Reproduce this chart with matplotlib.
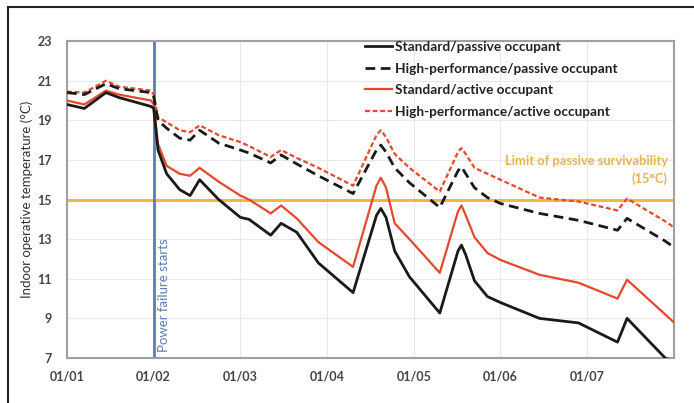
import matplotlib.pyplot as plt
from matplotlib.patches import Rectangle

plt.rcParams['font.family'] = ['Lato', 'DejaVu Sans']

# time axis in days since 01/01 (shared by all four series)
days = [0, 0.2, 0.45, 0.6, 0.97, 1.0, 1.05, 1.15, 1.3, 1.42, 1.53, 1.75,
        2.0, 2.1, 2.35, 2.47, 2.65, 2.9, 3.3, 3.57, 3.62, 3.68, 3.78, 3.95, 4.3,
        4.51, 4.55, 4.6, 4.7, 4.85, 5.0, 5.45, 5.9, 6.35, 6.46, 6.9, 7.0]

std_passive = [19.8, 19.6, 20.4, 20.15, 19.7, 19.6, 17.5, 16.3, 15.5, 15.2, 16.0, 15.0,
               14.1, 14.0, 13.2, 13.8, 13.35, 11.8, 10.3, 14.2, 14.55, 14.1, 12.4, 11.1, 9.27,
               12.4, 12.7, 12.2, 10.9, 10.1, 9.8, 9.0, 8.77, 7.8, 9.0, 7.0, 6.8]
hp_passive = [20.4, 20.3, 20.85, 20.6, 20.4, 20.2, 19.0, 18.6, 18.1, 18.0, 18.5, 17.85,
              17.5, 17.35, 16.85, 17.25, 16.8, 16.2, 15.3, 17.5, 17.75, 17.4, 16.6, 15.85, 14.6,
              16.45, 16.65, 16.3, 15.6, 15.1, 14.8, 14.3, 13.95, 13.45, 14.05, 12.9, 12.6]
std_active = [20.0, 19.8, 20.5, 20.3, 20.0, 19.8, 17.8, 16.7, 16.3, 16.2, 16.6, 15.9,
              15.2, 15.0, 14.3, 14.7, 14.05, 12.85, 11.6, 15.7, 16.1, 15.6, 13.8, 13.0, 11.3,
              14.4, 14.7, 14.2, 13.1, 12.3, 11.95, 11.2, 10.8, 10.0, 10.95, 9.2, 8.8]
hp_active = [20.45, 20.4, 21.0, 20.7, 20.5, 20.3, 19.15, 18.9, 18.5, 18.4, 18.75, 18.25,
             17.9, 17.7, 17.15, 17.5, 17.1, 16.6, 15.7, 18.25, 18.5, 18.15, 17.3, 16.6, 15.4,
             17.4, 17.6, 17.3, 16.6, 16.3, 16.0, 15.1, 14.9, 14.45, 15.05, 13.9, 13.6]

tick_days = [0, 1, 2, 3, 4, 5, 6]
tick_labels = ['01/01', '01/02', '01/03', '01/04', '01/05', '01/06', '01/07']
y_ticks = [7, 9, 11, 13, 15, 17, 19, 21, 23]

power_failure_day = 1.0
survival_limit = 15

black = '#1a1a1a'
red = '#E5482C'
gold = '#F4B63C'
blue = '#5B7DB5'

fig = plt.figure(figsize=(6.94, 4.03), dpi=100)
ax = fig.add_axes([0.0965, 0.1117, 0.8745, 0.7863])

# outer frame of the figure
fig.patches.append(Rectangle((8 / 694, -0.05), 1.1, 0.05 + 1 - 7 / 403,
                             transform=fig.transFigure, fill=False,
                             edgecolor='#222222', linewidth=1.5))

ax.grid(True, color='#E8E8E8', linewidth=0.8)
ax.set_axisbelow(True)

ax.axhline(survival_limit, color=gold, linewidth=2.2, zorder=2)
ax.axvline(power_failure_day, color=blue, linewidth=2.0, zorder=2)

ax.plot(days, std_passive, color=black, linewidth=2.0, label='Standard/passive occupant', zorder=4)
ax.plot(days, hp_passive, color=black, linewidth=2.0, dashes=(3.5, 2),
        label='High-performance/passive occupant', zorder=4)
ax.plot(days, std_active, color=red, linewidth=1.6, label='Standard/active occupant', zorder=3)
ax.plot(days, hp_active, color=red, linewidth=1.6, dashes=(2.2, 1.2),
        label='High-performance/active occupant', zorder=3)

ax.text(power_failure_day + 0.12, 7.3, 'Power failure starts', rotation=90,
        color=blue, fontsize=9.5, ha='center', va='bottom')
ax.text(6.93, 15.75, 'Limit of passive survivability\n(15°C)', color='#E8B450',
        fontsize=9.3, fontweight='bold', ha='right', va='bottom', linespacing=1.45,
        multialignment='right')

ax.set_xlim(0, 7)
ax.set_ylim(7, 23)
ax.set_xticks(tick_days)
ax.set_xticklabels(tick_labels)
ax.set_yticks(y_ticks)
ax.tick_params(axis='x', length=0, labelsize=9, colors='#444444', pad=9)
ax.tick_params(axis='y', length=0, labelsize=9, colors='#444444', pad=11)
for lab in ax.get_xticklabels() + ax.get_yticklabels():
    lab.set_fontweight('bold')
ax.set_ylabel('Indoor operative temperature (°C)', fontsize=9.5, color='#333333', labelpad=3)

for s in ax.spines.values():
    s.set_color('#A0A0A0')
    s.set_linewidth(1.5)

leg = ax.legend(loc='upper left', bbox_to_anchor=(0.491, 1.0), frameon=False,
                borderaxespad=0, borderpad=0,
                fontsize=9.8, handlelength=2.0, handletextpad=0.2, labelspacing=0.7)
for t in leg.get_texts():
    t.set_fontweight('bold')
    t.set_color('#222222')

fig.savefig('out.png', dpi=100)
